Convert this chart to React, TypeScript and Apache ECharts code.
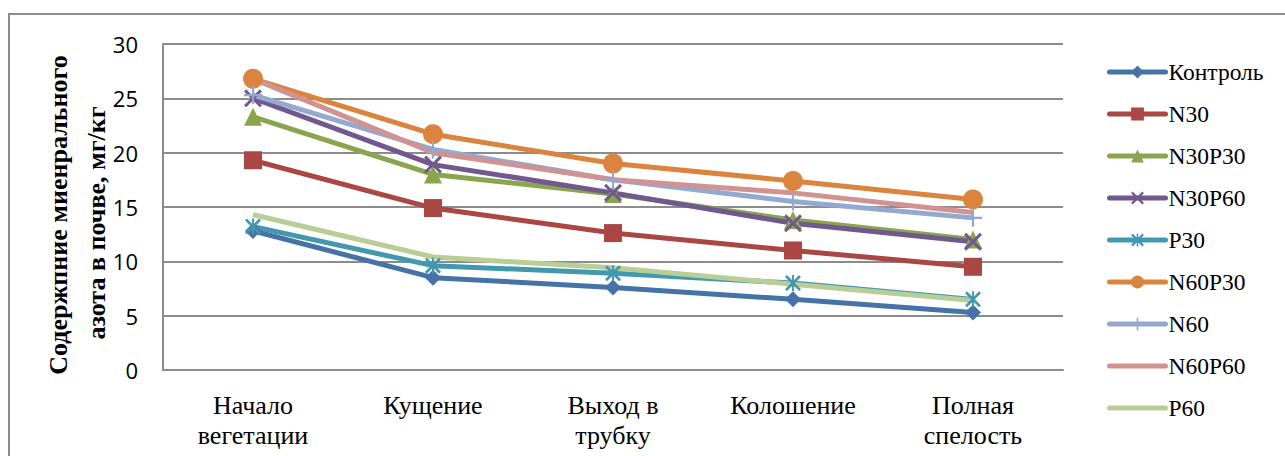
import React, { useEffect, useRef } from "react";
import * as echarts from "echarts";

const categories = ["Начало\nвегетации", "Кущение", "Выход в\nтрубку", "Колошение", "Полная\nспелость"];
const seriesNames = ["Контроль", "N30", "N30P30", "N30P60", "P30", "N60P30", "N60", "N60P60", "P60"];
const kontrol = [12.8, 8.5, 7.6, 6.5, 5.3];
const n30 = [19.3, 14.9, 12.6, 11.0, 9.5];
const n30p30 = [23.3, 18.0, 16.2, 13.8, 12.0];
const n30p60 = [25.0, 18.9, 16.3, 13.5, 11.8];
const p30 = [13.2, 9.6, 8.9, 8.0, 6.5];
const n60p30 = [26.8, 21.7, 19.0, 17.4, 15.7];
const n60 = [25.3, 20.3, 17.5, 15.5, 14.0];
const n60p60 = [26.8, 20.0, 17.5, 16.3, 14.5];
const p60 = [14.3, 10.4, 9.4, 7.9, 6.4];
const yTicks = { min: 0, max: 30, interval: 5 };

const colors = ["#4572A7", "#AA4643", "#89A54E", "#71588F", "#4198AF", "#DB843D", "#93A9CF", "#D19392", "#B9CD96"];
const allData = [kontrol, n30, n30p30, n30p60, p30, n60p30, n60, n60p60, p60];

const X_PATH = "path://M0,1.2 L1.2,0 L10,8.8 L8.8,10 Z M8.8,0 L10,1.2 L1.2,10 L0,8.8 Z";
const STAR_PATH =
  "path://M0,1.2 L1.2,0 L10,8.8 L8.8,10 Z M8.8,0 L10,1.2 L1.2,10 L0,8.8 Z M4.4,0 L5.6,0 L5.6,10 L4.4,10 Z";
const PLUS_PATH = "path://M4.4,0 L5.6,0 L5.6,10 L4.4,10 Z M0,4.4 L10,4.4 L10,5.6 L0,5.6 Z";

const symbols = ["diamond", "rect", "triangle", X_PATH, STAR_PATH, "circle", PLUS_PATH, "none", "none"];
const symbolSizes = [16, 18, 18, 18, 16, 20, 18, 0, 0];

export default function App() {
  const ref = useRef<HTMLDivElement>(null);
  useEffect(() => {
    if (!ref.current) return;
    const chart = echarts.init(ref.current, null, { renderer: "svg" });
    const serif = "Liberation Serif";
    chart.setOption({
      animation: false,
      backgroundColor: "#ffffff",
      color: colors,
      graphic: [
        {
          type: "rect",
          shape: { x: 9, y: 14, width: 1300, height: 500 },
          style: { fill: "none", stroke: "#8c8c8c", lineWidth: 2 },
          silent: true,
        },
        {
          type: "text",
          x: 58,
          y: 215,
          rotation: Math.PI / 2,
          style: {
            text: "Содержпние миенрального",
            font: "bold 26px 'Liberation Serif'",
            fill: "#000",
            textAlign: "center",
            textVerticalAlign: "middle",
          },
        },
        {
          type: "text",
          x: 96,
          y: 223,
          rotation: Math.PI / 2,
          style: {
            text: "азота в почве, мг/кг",
            font: "bold 26px 'Liberation Serif'",
            fill: "#000",
            textAlign: "center",
            textVerticalAlign: "middle",
          },
        },
      ],
      grid: { left: 163, right: 222, top: 44, bottom: 86, containLabel: false },
      legend: {
        orient: "vertical",
        left: 1102,
        top: 55,
        itemWidth: 56,
        itemHeight: 16,
        itemGap: 18,
        lineStyle: { width: 5, cap: "round" },
        textStyle: { fontFamily: serif, fontSize: 23.5, color: "#000", lineHeight: 24, padding: [0, 0, 0, -2] },
        data: seriesNames.map((name, i) =>
          symbols[i] === "none" ? { name, itemStyle: { color: "rgba(0,0,0,0)", opacity: 0 } } : { name }
        ),
      },
      xAxis: {
        type: "category",
        data: categories,
        boundaryGap: true,
        axisLine: { show: true, lineStyle: { color: "#8c8c8c", width: 2 } },
        axisTick: { show: false },
        axisLabel: {
          interval: 0,
          margin: 20,
          fontFamily: serif,
          fontSize: 26,
          lineHeight: 30,
          color: "#000",
        },
      },
      yAxis: {
        type: "value",
        min: yTicks.min,
        max: yTicks.max,
        interval: yTicks.interval,
        axisLine: { show: true, lineStyle: { color: "#8c8c8c", width: 2 } },
        axisTick: { show: false },
        splitLine: { show: true, lineStyle: { color: "#8c8c8c", width: 2 } },
        axisLabel: { margin: 25, fontFamily: "Open Sans", fontSize: 22, color: "#000" },
      },
      series: seriesNames.map((name, i) => ({
        name,
        type: "line",
        data: allData[i],
        symbol: symbols[i],
        symbolSize: symbolSizes[i],
        showSymbol: symbols[i] !== "none",
        lineStyle: { width: 5, color: colors[i] },
        itemStyle: { color: colors[i], borderWidth: 0 },
        emphasis: { disabled: true },
      })),
    });
    return () => chart.dispose();
  }, []);
  return (
    <div
      ref={ref}
      style={{ position: "absolute", left: 0, top: 0, width: 1285, height: 456, background: "#fff" }}
    />
  );
}
